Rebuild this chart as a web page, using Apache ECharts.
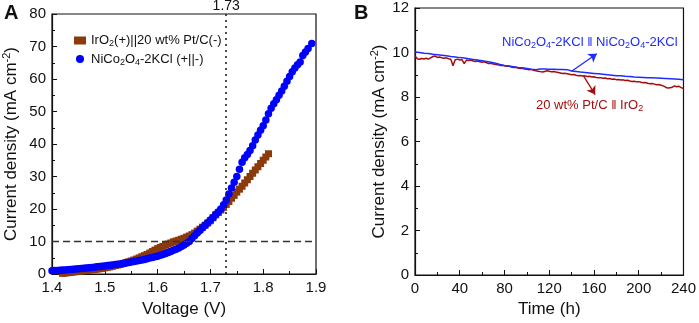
<!DOCTYPE html>
<html>
<head>
<meta charset="utf-8">
<script src="https://cdn.jsdelivr.net/npm/echarts@6/dist/echarts.min.js"></script>
<style>
  html, body { margin: 0; padding: 0; background: #fff; }
  #chart { width: 699px; height: 323px; }
</style>
</head>
<body>
<div id="chart"></div>
<script>
// Panel A: polarization curves
const voltNiCo = [
  1.400, 1.405, 1.410, 1.415, 1.420, 1.425, 1.430, 1.435, 1.440, 1.445,
  1.450, 1.455, 1.460, 1.465, 1.470, 1.475, 1.480, 1.485, 1.490, 1.495,
  1.500, 1.505, 1.510, 1.515, 1.520, 1.525, 1.530, 1.535, 1.540, 1.545,
  1.550, 1.555, 1.560, 1.565, 1.570, 1.575, 1.580, 1.585, 1.590, 1.595,
  1.600, 1.605, 1.610, 1.615, 1.620, 1.625, 1.630, 1.635, 1.640, 1.645,
  1.650, 1.655, 1.660, 1.665, 1.670, 1.675, 1.680, 1.685, 1.690, 1.695,
  1.700, 1.705, 1.710, 1.715, 1.720, 1.725, 1.730, 1.735, 1.740, 1.745,
  1.750, 1.755, 1.760, 1.765, 1.770, 1.775, 1.780, 1.785, 1.790, 1.795,
  1.800, 1.805, 1.810, 1.815, 1.820, 1.825, 1.830, 1.835, 1.840, 1.845,
  1.850, 1.855, 1.860, 1.865, 1.870, 1.875, 1.880, 1.885, 1.892
]
const currNiCo = [
  1.0, 1.05, 1.1, 1.15, 1.2, 1.25, 1.3, 1.4, 1.5, 1.55,
  1.6, 1.7, 1.8, 1.85, 1.9, 2.0, 2.1, 2.2, 2.3, 2.4,
  2.5, 2.6, 2.7, 2.8, 2.9, 3.0, 3.1, 3.25, 3.4, 3.55,
  3.7, 3.85, 4.0, 4.15, 4.3, 4.5, 4.7, 4.9, 5.1, 5.3,
  5.5, 5.75, 6.0, 6.3, 6.6, 6.95, 7.3, 7.65, 8.0, 8.45,
  8.9, 9.45, 10.0, 10.9, 11.8, 12.6, 13.4, 14.2, 15.0, 15.8,
  16.6, 17.4, 18.3, 19.1, 20.0, 21.3, 22.8, 24.6, 26.5, 28.2,
  30.0, 32.2, 34.4, 35.8, 36.8, 38.0, 39.5, 41.2, 42.8, 44.2,
  45.6, 47.4, 49.3, 51.0, 52.4, 53.6, 55.0, 56.3, 57.8, 59.3,
  60.8, 62.2, 63.4, 64.4, 65.2, 67.2, 68.3, 69.4, 70.9
]
const voltIrO2 = [
  1.420, 1.425, 1.430, 1.435, 1.440, 1.445, 1.450, 1.455, 1.460, 1.465,
  1.470, 1.475, 1.480, 1.485, 1.490, 1.495, 1.500, 1.505, 1.510, 1.515,
  1.520, 1.525, 1.530, 1.535, 1.540, 1.545, 1.550, 1.555, 1.560, 1.565,
  1.570, 1.575, 1.580, 1.585, 1.590, 1.595, 1.600, 1.605, 1.610, 1.615,
  1.620, 1.625, 1.630, 1.635, 1.640, 1.645, 1.650, 1.655, 1.660, 1.665,
  1.670, 1.675, 1.680, 1.685, 1.690, 1.695, 1.700, 1.705, 1.710, 1.715,
  1.720, 1.725, 1.730, 1.735, 1.740, 1.745, 1.750, 1.755, 1.760, 1.765,
  1.770, 1.775, 1.780, 1.785, 1.790, 1.795, 1.800, 1.805, 1.810
]
const currIrO2 = [
  0.2, 0.3, 0.4, 0.5, 0.6, 0.7, 0.8, 0.9, 1.0, 1.1,
  1.2, 1.3, 1.4, 1.5, 1.6, 1.75, 1.9, 2.05, 2.2, 2.4,
  2.6, 2.8, 3.0, 3.25, 3.5, 3.75, 4.0, 4.3, 4.6, 4.95,
  5.3, 5.65, 6.0, 6.45, 6.9, 7.35, 7.8, 8.15, 8.5, 8.85,
  9.2, 9.55, 9.9, 10.15, 10.4, 10.7, 11.0, 11.35, 11.7, 12.1,
  12.6, 13.2, 13.8, 14.4, 15.0, 15.7, 16.4, 17.3, 18.2, 18.9,
  19.7, 20.5, 21.4, 22.3, 23.3, 24.2, 25.2, 26.1, 27.0, 28.0,
  29.0, 30.0, 31.0, 32.0, 33.0, 34.0, 35.0, 36.0, 37.0
]
const markVoltage = 1.73
const markCurrent = 10

// Panel B: stability
const timeNiCo = [
  0, 4, 8, 12, 16, 20, 24, 28, 32, 36, 40, 44, 48, 52, 56, 60,
  64, 68, 72, 76, 80, 84, 88, 92, 96, 100, 104, 108, 112, 116, 120,
  124, 128, 132, 136, 140, 144, 148, 152, 156, 160, 164, 168, 172, 176, 180,
  184, 188, 192, 196, 200, 204, 208, 212, 216, 220, 224, 228, 232, 236, 240
]
const stabNiCo = [
  10.02, 10.0, 9.97, 9.95, 9.92, 9.90, 9.88, 9.85, 9.82, 9.80, 9.77, 9.75, 9.72, 9.69, 9.66, 9.63,
  9.60, 9.56, 9.52, 9.46, 9.42, 9.39, 9.36, 9.33, 9.31, 9.28, 9.25, 9.23, 9.26, 9.26, 9.25,
  9.25, 9.24, 9.24, 9.23, 9.17, 9.15, 9.12, 9.10, 9.08, 9.06, 9.04, 9.02, 9.00, 8.98, 8.96,
  8.95, 8.93, 8.92, 8.90, 8.89, 8.88, 8.87, 8.86, 8.85, 8.84, 8.83, 8.82, 8.81, 8.80, 8.78
]
const timePt = [
  0, 2, 4, 6, 8, 10, 12, 14, 16, 18, 20, 22, 24, 26, 28, 30, 32, 34, 36, 38,
  40, 42, 44, 46, 48, 50, 52, 54, 56, 58, 60, 62, 64, 66, 68, 70, 72, 74, 76, 78,
  80, 82, 84, 86, 88, 90, 92, 94, 96, 98, 100, 102, 104, 106, 108, 110, 112, 114, 116, 118,
  120, 122, 124, 126, 128, 130, 132, 134, 136, 138, 140, 142, 144, 146, 148, 150, 152, 154, 156, 158,
  160, 162, 164, 166, 168, 170, 172, 174, 176, 178, 180, 182, 184, 186, 188, 190, 192, 194, 196, 198,
  200, 202, 204, 206, 208, 210, 212, 214, 216, 218, 220, 222, 224, 226, 228, 230, 232, 234, 236, 238, 240
]
const stabPt = [
  9.85, 9.72, 9.70, 9.73, 9.71, 9.74, 9.70, 9.76, 9.82, 9.84, 9.78, 9.80, 9.76, 9.74, 9.76, 9.72, 9.70, 9.40, 9.68, 9.70,
  9.66, 9.68, 9.50, 9.66, 9.64, 9.66, 9.62, 9.60, 9.62, 9.58, 9.56, 9.58, 9.54, 9.50, 9.52, 9.48, 9.46, 9.45, 9.42, 9.43,
  9.40, 9.38, 9.39, 9.35, 9.33, 9.34, 9.30, 9.28, 9.29, 9.26, 9.25, 9.22, 9.24, 9.20, 9.18, 9.16, 9.14, 9.12, 9.15, 9.18,
  9.16, 9.13, 9.15, 9.12, 9.10, 9.08, 9.06, 9.07, 9.04, 9.02, 9.00, 9.01, 8.98, 8.96, 8.97, 8.94, 8.95, 8.92, 8.93, 8.90,
  8.91, 8.88, 8.86, 8.87, 8.84, 8.85, 8.82, 8.83, 8.80, 8.81, 8.78, 8.79, 8.76, 8.77, 8.74, 8.75, 8.72, 8.70, 8.71, 8.68,
  8.69, 8.66, 8.64, 8.65, 8.62, 8.60, 8.61, 8.58, 8.55, 8.56, 8.53, 8.50, 8.44, 8.40, 8.42, 8.44, 8.50, 8.46, 8.48, 8.42, 8.38
]
// arrows pointing from curves to annotations, in data units [time, current]
const arrowNiCo = [[140, 9.16], [162.5, 9.94]]
const arrowPt = [[150.5, 8.96], [161, 8.11]]

const FONT = '"Liberation Sans", Arial, sans-serif'
const BROWN = '#8b3a0c'
const BLUE = '#0000ff'
const BLUE_B = '#1f2bff'
const RED_B = '#a50d0d'

const zip = (xs, ys) => xs.map((x, i) => [x, ys[i]])

const legendNames = {
  'IrO2(+)||20 wt% Pt/C(-)': 'IrO{s|2}(+)||20 wt% Pt/C(-)',
  'NiCo2O4-2KCl (+||-)': 'NiCo{s|2}O{s|4}-2KCl (+||-)',
}

const subRich = { s: { fontSize: 9, padding: [7, 0, 0, 0], fontFamily: FONT, color: '#111' } }
const yName = 'Current density (mA cm{p|-2})'
const yNameStyle = {
  fontSize: 17, fontFamily: FONT, color: '#111',
  rich: { p: { fontSize: 11, padding: [0, 0, 9, 0], fontFamily: FONT, color: '#111' } },
}

const axisCommon = {
  axisLine: { show: true, onZero: false, lineStyle: { color: '#111', width: 1.2 } },
  axisTick: { show: true, inside: true, length: 5, lineStyle: { color: '#111' } },
  minorTick: { show: true, splitNumber: 2, length: 3, lineStyle: { color: '#111' } },
  splitLine: { show: false },
  axisLabel: { fontSize: 15, fontFamily: FONT, color: '#111', margin: 6 },
  nameTextStyle: { fontSize: 17, fontFamily: FONT, color: '#111' },
}

const chart = echarts.init(document.getElementById('chart'), null, { renderer: 'canvas' })

chart.setOption({
  backgroundColor: '#fff',
  animation: false,
  grid: [
    { left: 52, right: 383, top: 14, bottom: 45, show: true, borderColor: '#111', borderWidth: 1.2 },
    { left: 415, right: 13, top: 8, bottom: 42, show: true, borderColor: '#111', borderWidth: 1.2 },
  ],
  legend: {
    data: ['IrO2(+)||20 wt% Pt/C(-)', 'NiCo2O4-2KCl (+||-)'],
    orient: 'vertical',
    left: 69,
    top: 29,
    itemWidth: 12,
    itemHeight: 8,
    itemGap: 4,
    textStyle: { fontSize: 13, fontFamily: FONT, color: '#111', rich: subRich },
    formatter: (name) => legendNames[name],
  },
  xAxis: [
    {
      ...axisCommon, gridIndex: 0, type: 'value', min: 1.4, max: 1.9, interval: 0.1,
      name: 'Voltage (V)', nameLocation: 'middle', nameGap: 27,
      axisLabel: { ...axisCommon.axisLabel, formatter: (v) => v.toFixed(1) },
    },
    {
      ...axisCommon, gridIndex: 1, type: 'value', min: 0, max: 240, interval: 40,
      name: 'Time (h)', nameLocation: 'middle', nameGap: 26,
    },
  ],
  yAxis: [
    {
      ...axisCommon, gridIndex: 0, type: 'value', min: 0, max: 80, interval: 10,
      name: yName, nameLocation: 'middle', nameGap: 31, nameTextStyle: yNameStyle,
    },
    {
      ...axisCommon, gridIndex: 1, type: 'value', min: 0, max: 12, interval: 2,
      name: yName, nameLocation: 'middle', nameGap: 26, nameTextStyle: yNameStyle,
    },
  ],
  series: [
    {
      name: 'IrO2(+)||20 wt% Pt/C(-)',
      type: 'scatter',
      xAxisIndex: 0, yAxisIndex: 0,
      symbol: 'rect',
      symbolSize: 7,
      itemStyle: { color: BROWN, opacity: 1 },
      data: zip(voltIrO2, currIrO2),
      markLine: {
        silent: true,
        symbol: 'none',
        data: [
          {
            xAxis: markVoltage,
            lineStyle: { type: [2, 4], color: '#222', width: 1.6 },
            label: { show: true, position: 'end', formatter: '1.73', fontSize: 14, fontFamily: FONT, color: '#111', distance: 1 },
          },
          {
            yAxis: markCurrent,
            lineStyle: { type: [7, 4], color: '#333', width: 1.3 },
            label: { show: false },
          },
        ],
      },
    },
    {
      name: 'NiCo2O4-2KCl (+||-)',
      type: 'scatter',
      xAxisIndex: 0, yAxisIndex: 0,
      symbol: 'circle',
      symbolSize: 7.5,
      itemStyle: { color: BLUE, opacity: 1 },
      data: zip(voltNiCo, currNiCo),
    },
    {
      name: 'NiCo2O4-2KCl || NiCo2O4-2KCl',
      type: 'line',
      xAxisIndex: 1, yAxisIndex: 1,
      showSymbol: false,
      lineStyle: { color: BLUE_B, width: 1.5 },
      data: zip(timeNiCo, stabNiCo),
      z: 3,
      markLine: {
        silent: true,
        symbol: ['none', 'arrow'],
        symbolSize: 8,
        label: { show: false },
        lineStyle: { color: BLUE_B, width: 1.3, type: 'solid' },
        data: [[{ coord: arrowNiCo[0] }, { coord: arrowNiCo[1] }]],
      },
    },
    {
      name: '20 wt% Pt/C || IrO2',
      type: 'line',
      xAxisIndex: 1, yAxisIndex: 1,
      showSymbol: false,
      lineStyle: { color: RED_B, width: 1.5 },
      data: zip(timePt, stabPt),
      z: 2,
      markLine: {
        silent: true,
        symbol: ['none', 'arrow'],
        symbolSize: 8,
        label: { show: false },
        lineStyle: { color: RED_B, width: 1.3, type: 'solid' },
        data: [[{ coord: arrowPt[0] }, { coord: arrowPt[1] }]],
      },
    },
  ],
  graphic: [
    { type: 'text', left: 4, top: 3, style: { text: 'A', font: 'bold 20px ' + FONT, fill: '#111' } },
    { type: 'text', left: 354, top: 3, style: { text: 'B', font: 'bold 20px ' + FONT, fill: '#111' } },
    {
      type: 'text', left: 502, top: 36,
      style: {
        text: 'NiCo{s|2}O{s|4}-2KCl \u2016 NiCo{s|2}O{s|4}-2KCl',
        font: '13px ' + FONT, fill: BLUE_B,
        rich: { s: { fontSize: 9, padding: [7, 0, 0, 0], fill: BLUE_B, fontFamily: FONT } },
      },
    },
    {
      type: 'text', left: 536, top: 99,
      style: {
        text: '20 wt% Pt/C \u2016 IrO{s|2}',
        font: '13px ' + FONT, fill: RED_B,
        rich: { s: { fontSize: 9, padding: [7, 0, 0, 0], fill: RED_B, fontFamily: FONT } },
      },
    },
  ],
})
</script>
</body>
</html>
